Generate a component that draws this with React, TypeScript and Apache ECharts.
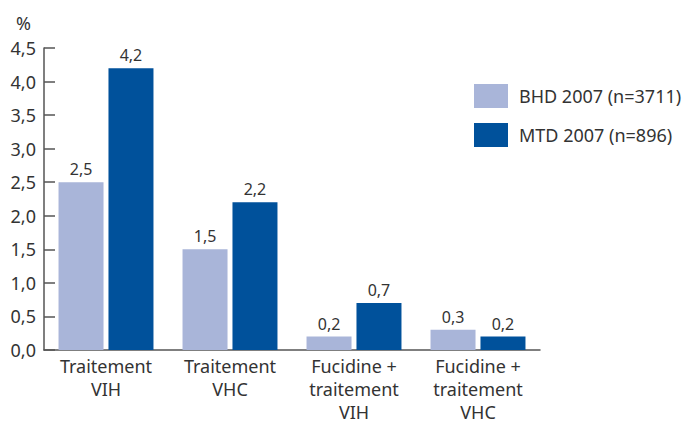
import React, { useEffect, useRef } from "react";
import * as echarts from "echarts";

const categories = ["Traitement\nVIH", "Traitement\nVHC", "Fucidine +\ntraitement\nVIH", "Fucidine +\ntraitement\nVHC"];
const bhdValues = [2.5, 1.5, 0.2, 0.3];
const mtdValues = [4.2, 2.2, 0.7, 0.2];
const seriesNames = ["BHD 2007 (n=3711)", "MTD 2007 (n=896)"];

const FONT = "'Noto Sans', sans-serif";
const TXT = "#333333";

export default function App() {
  const ref = useRef<HTMLDivElement>(null);
  useEffect(() => {
    if (!ref.current) return;
    const chart = echarts.init(ref.current, null, { renderer: "svg" });
    const fmt = (v: number) => v.toFixed(1).replace(".", ",");
    chart.setOption({
      animation: false,
      textStyle: { fontFamily: FONT },
      grid: { left: 44, right: 147, top: 48, bottom: 73 },
      legend: {
        orient: "vertical",
        left: 474,
        top: 84,
        padding: 0,
        itemWidth: 34,
        itemHeight: 24,
        itemGap: 15,
        icon: "rect",
        textStyle: { fontFamily: FONT, fontSize: 18, color: TXT, lineHeight: 24, padding: [0, 0, 0, 6] },
        data: seriesNames,
      },
      xAxis: {
        type: "category",
        data: categories,
        axisLine: { lineStyle: { color: "#555", width: 1.5 } },
        axisTick: { inside: true, length: 8, lineStyle: { color: "#555", width: 1.5 } },
        axisLabel: { fontFamily: FONT, fontSize: 18, color: TXT, lineHeight: 23, margin: 4, interval: 0 },
      },
      yAxis: {
        type: "value",
        min: 0,
        max: 4.5,
        interval: 0.5,
        name: "%",
        nameGap: 16,
        nameLocation: "end",
        nameTextStyle: { fontFamily: FONT, fontSize: 18, color: TXT, align: "right", padding: [0, 13, 0, 0] },
        splitLine: { show: false },
        axisLine: { show: true, lineStyle: { color: "#555", width: 1.5 } },
        axisTick: { show: true, inside: true, length: 11, lineStyle: { color: "#555", width: 1.5 } },
        axisLabel: { fontFamily: FONT, fontSize: 18, color: TXT, margin: 8, formatter: (v: number) => fmt(v) },
      },
      series: [
        {
          name: seriesNames[0],
          type: "bar",
          data: bhdValues,
          barWidth: 45,
          barGap: "11%",
          itemStyle: { color: "#a9b5d9" },
          label: { show: true, position: "top", distance: 5, fontFamily: FONT, fontSize: 16, color: TXT, formatter: (p: any) => fmt(p.value) },
        },
        {
          name: seriesNames[1],
          type: "bar",
          data: mtdValues,
          barWidth: 45,
          itemStyle: { color: "#00519b" },
          label: { show: true, position: "top", distance: 5, fontFamily: FONT, fontSize: 16, color: TXT, formatter: (p: any) => fmt(p.value) },
        },
      ],
    });
    return () => chart.dispose();
  }, []);
  return <div ref={ref} style={{ width: 687, height: 423, position: "absolute", left: 0, top: 0 }} />;
}
